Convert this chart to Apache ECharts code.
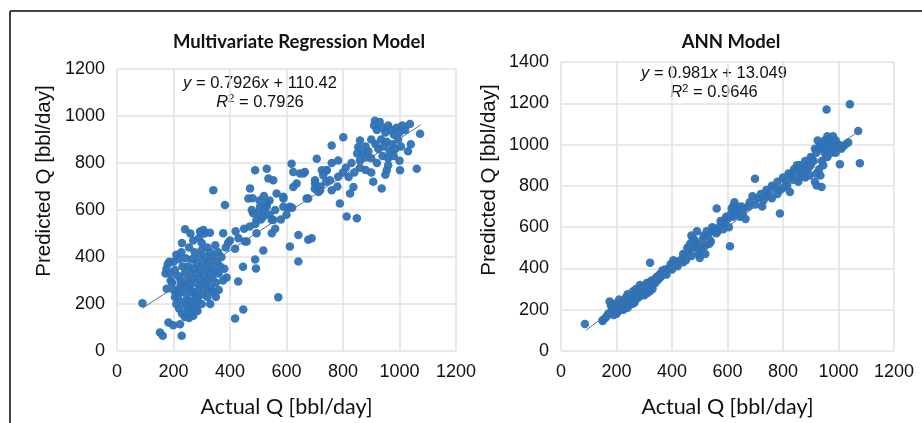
<!DOCTYPE html>
<html><head><meta charset="utf-8">
<script src="https://cdn.jsdelivr.net/npm/echarts@6/dist/echarts.min.js"></script>
<style>html,body{margin:0;padding:0;background:#fff}#c{width:922px;height:423px}</style>
</head><body><div id="c"></div>
<script>
// ---------- data ----------
const titles = ['Multivariate Regression Model', 'ANN Model'];
const xAxisName = 'Actual Q [bbl/day]';
const yAxisName = 'Predicted Q [bbl/day]';
const mrFit = { slope: 0.7926, intercept: 110.42, r2: '0.7926', text: '0.7926', icpt: '110.42' };
const annFit = { slope: 0.981, intercept: 13.049, r2: '0.9646', text: '0.981', icpt: '13.049' };
const fitRange = [90, 1075];

const mrPoints = [
[90,203],[152,79],[162,65],[229,65],[182,121],[199,110],[223,114],[176,265],[175,350],[180,370],[172,330],[190,300],
[205,230],[215,255],[210,200],[220,180],[230,160],[240,145],[250,170],[255,140],[265,190],[270,150],[285,170],
[200,380],[205,345],[210,410],[215,320],[220,390],[225,300],[228,420],[232,360],[236,270],[240,330],[243,395],
[246,240],[250,300],[252,360],[255,440],[258,210],[260,280],[262,330],[265,390],[268,250],[270,310],[272,350],
[275,420],[278,230],[280,290],[282,370],[285,330],[288,260],[290,400],[292,310],[295,350],[298,280],[300,430],
[302,240],[305,370],[308,320],[310,290],[312,400],[315,350],[318,260],[320,440],[322,300],[325,380],[328,330],
[330,420],[332,270],[335,360],[338,310],[340,400],[345,340],[348,450],[350,290],[355,380],[358,420],[360,330],
[365,360],[370,400],[375,300],[380,350],[385,440],[290,480],[300,460],[270,470],[230,460],[260,500],[310,500],
[294,508],[329,503],[241,518],[306,515],[376,501],[453,466],[382,621],[393,460],[418,435],[446,359],[429,296],
[388,313],[447,177],[418,138],[571,229],[489,389],[492,351],[518,428],[459,466],[494,501],[548,501],[612,445],
[642,494],[642,381],[677,473],[215,230],[225,250],[245,195],[255,215],[265,160],[275,200],[285,220],[235,210],
[260,260],[280,180],[300,200],[320,230],[340,250],[360,260],[330,200],[350,230],[245,280],[225,280],[185,380],
[190,330],[195,290],[200,260],
[482,586],[530,614],[589,614],[494,558],[553,558],[341,684],[489,769],[530,776],[536,734],[553,727],[471,692],
[465,649],[477,600],[506,614],[530,628],[518,572],[548,558],[565,670],[589,649],[606,607],[618,797],[624,762],
[648,755],[665,762],[636,713],[624,698],[707,818],[760,874],[742,769],[730,748],[701,713],[719,684],[760,684],
[671,649],[689,480],[500,590],[510,560],[520,600],[540,580],[560,600],[490,540],[505,640],[470,530],[450,520],
[430,480],[420,510],[400,470],[580,560],[600,580],[620,610],[560,520],[540,640],[520,660],[480,650],
[913,980],[1073,924],[1061,776],[1037,966],[1002,769],[955,769],[907,720],[937,691],[837,698],[825,670],[813,572],
[849,565],[789,628],[801,910],[783,811],[660,755],[725,769],[742,769],[701,727],[677,649],[713,677],[754,727],
[783,741],[860,811],[884,825],[860,896],[854,867],[589,656],[612,614],
[910,960],[920,940],[930,975],[940,950],[950,930],[960,960],[970,940],[980,920],[990,950],[1000,930],[1010,960],
[1020,940],[900,900],[915,880],[925,860],[935,900],[945,870],[955,890],[965,850],[975,880],[985,860],[995,900],
[1005,870],[890,850],[880,870],[870,840],[900,820],[920,800],[940,830],[960,820],[980,830],[1000,810],[1030,850],
[1040,880],[850,840],[830,800],[810,780],[800,760],[780,700],[820,740],[840,760],[860,780],[880,770],[900,760],
[760,800],[740,720],[720,700],[700,690],[960,790],[950,750]
];

const annPoints = [
[86,131],[150,145],[160,160],[170,180],[175,240],[180,220],[185,200],[190,175],[195,230],[200,210],[205,190],
[210,250],[215,225],[220,205],[225,240],[230,215],[235,260],[240,230],[245,250],[250,240],[255,270],[260,250],
[265,235],[270,285],[275,265],[280,280],[285,300],[290,270],[295,310],[300,290],[305,320],[310,300],[315,330],
[320,310],[325,340],[330,320],[335,345],[340,330],[345,360],[350,345],[355,370],[360,360],[321,427],[370,380],
[380,390],[390,400],[400,395],[410,420],[420,410],[430,440],[440,430],[450,470],[460,480],[470,460],[480,500],
[490,520],[500,490],[510,540],[520,510],[530,560],[540,530],[550,580],[560,570],[470,560],[480,540],[490,580],
[460,500],[450,440],[500,450],[520,470],[609,507],[570,600],[580,620],[590,610],[600,640],[610,660],[620,650],
[630,680],[640,660],[650,700],[660,690],[561,690],[680,720],[700,710],[699,834],[620,700],[720,760],[740,780],
[760,800],[789,666],[780,820],[800,840],[825,770],[820,860],[840,880],[860,900],[880,920],[900,940],[921,802],
[939,794],[957,1170],[1041,1195],[1071,1066],[1077,910],[1005,905],[920,960],[930,980],[940,1000],[950,1020],
[960,1040],[970,1000],[980,980],[990,1020],[1000,1000],[910,920],[890,880],[870,860],[850,900],[950,960],
[960,940],[970,980],[980,1040],[940,920],[900,900],[1010,980],[990,960],[930,880],[920,860],[880,840],[860,840],
[150,150],[165,170],[190,215],[200,180],[215,200],[225,200],[240,210],[250,225],[260,230],[270,250],[280,260],
[300,270],[310,280],[320,290],[330,300],[180,190],[195,195],[230,245],[250,260],[270,300],[290,290],[300,310],
[260,290],[240,275],[285,320],[310,330],[340,350],[355,355],[365,390],[375,395],[380,370],[395,420],[405,440],
[420,430],[440,470],[455,500],[465,520],[475,540],[485,510],[495,470],[505,500],[515,560],[525,580],[535,520],
[545,600],[555,590],[565,580],[575,630],[585,590],[595,650],[605,600],[615,690],[625,720],[635,700],[645,650],
[655,660],[665,640],[675,700],[690,750],[710,740],[730,730],[750,760],[770,790],[790,780],[810,820],[830,850],
[845,870],[865,880],[885,900],[905,930],[915,980],[925,1020],[935,1000],[945,980],[955,1010],[965,1020],
[975,960],[985,1000],[995,990],[1015,990],[1025,1000],[1035,1010],[955,940],[945,900],[935,850],[915,820],
[895,850],[875,870],[855,820],[835,830],[815,800],[800,790],[780,760],[760,740],[740,750],[725,700]
];

const xTicks = { min: 0, max: 1200, interval: 200 };
const yTicksMR = { min: 0, max: 1200, interval: 200 };
const yTicksANN = { min: 0, max: 1400, interval: 200 };

// ---------- chart ----------
const DOT = '#2E72B6';
const TICKFONT = 'Liberation Sans';
const LABELFONT = 'Lato';

function fitLine(f) { return fitRange.map(x => [x, f.slope * x + f.intercept]); }
const plain = v => String(v);

function xAx(gi) {
  return {
    gridIndex: gi, type: 'value', min: xTicks.min, max: xTicks.max, interval: xTicks.interval,
    name: xAxisName, nameLocation: 'middle', nameGap: 45,
    nameTextStyle: { fontFamily: LABELFONT, fontSize: 21.5, color: '#111' },
    axisLine: { show: false }, axisTick: { show: false },
    axisLabel: { fontFamily: TICKFONT, fontSize: 18, color: '#111', margin: 12, formatter: plain },
    splitLine: { show: true, lineStyle: { color: '#e2e2e2', width: 1.5 } }
  };
}
function yAx(gi, t) {
  return {
    gridIndex: gi, type: 'value', min: t.min, max: t.max, interval: t.interval,
    axisLine: { show: false }, axisTick: { show: false },
    axisLabel: { fontFamily: TICKFONT, fontSize: 18, color: '#111', margin: 12, formatter: plain },
    splitLine: { show: true, lineStyle: { color: '#e2e2e2', width: 1.5 } }
  };
}
function yName(cx, cy) {
  return {
    type: 'text', x: cx, y: cy, rotation: Math.PI / 2,
    style: { text: yAxisName, align: 'center', verticalAlign: 'middle',
      fontFamily: TICKFONT, fontSize: 20.5, fill: '#111' }
  };
}
function annot(f, cx, y) {
  return {
    type: 'text', x: cx, y: y,
    style: {
      text: '{i|y} = ' + f.text + '{i|x} + ' + f.icpt + '\n{i|R}{s|2} = ' + f.r2,
      align: 'center', verticalAlign: 'top', fontFamily: TICKFONT, fontSize: 16.5, fill: '#111', lineHeight: 19,
      rich: {
        i: { fontStyle: 'italic', fontFamily: TICKFONT, fontSize: 16.5, fill: '#111', lineHeight: 19 },
        s: { fontFamily: TICKFONT, fontSize: 11.5, fill: '#111', verticalAlign: 'top', padding: [0, 0, 7, 0], lineHeight: 19 }
      }
    }
  };
}

const chart = echarts.init(document.getElementById('c'), null, { renderer: 'canvas' });
chart.setOption({
  backgroundColor: '#fff',
  animation: false,
  title: [
    { text: titles[0], left: 294, top: 28, textAlign: 'center',
      textStyle: { fontFamily: LABELFONT, fontWeight: 'bold', fontSize: 18.5, color: '#111' } },
    { text: titles[1], left: 726, top: 28, textAlign: 'center',
      textStyle: { fontFamily: LABELFONT, fontWeight: 'bold', fontSize: 18.5, color: '#111' } }
  ],
  grid: [
    { left: 117, top: 69, width: 339, height: 283 },
    { left: 561, top: 62, width: 333, height: 292 }
  ],
  xAxis: [xAx(0), xAx(1)],
  yAxis: [yAx(0, yTicksMR), yAx(1, yTicksANN)],
  series: [
    { type: 'scatter', xAxisIndex: 0, yAxisIndex: 0, data: mrPoints, symbolSize: 8.5,
      itemStyle: { color: DOT, opacity: 0.95 } },
    { type: 'line', xAxisIndex: 0, yAxisIndex: 0, data: fitLine(mrFit), symbol: 'none', z: 3,
      lineStyle: { color: '#5a6f8c', width: 1 } },
    { type: 'scatter', xAxisIndex: 1, yAxisIndex: 1, data: annPoints, symbolSize: 8.5,
      itemStyle: { color: DOT, opacity: 0.95 } },
    { type: 'line', xAxisIndex: 1, yAxisIndex: 1, data: fitLine(annFit), symbol: 'none', z: 3,
      lineStyle: { color: '#5a6f8c', width: 1 } }
  ],
  graphic: [
    { type: 'line', shape: { x1: 10, y1: 11, x2: 922, y2: 11 }, style: { stroke: '#444', lineWidth: 2 } },
    { type: 'line', shape: { x1: 10, y1: 11, x2: 10, y2: 423 }, style: { stroke: '#444', lineWidth: 2 } },
    yName(44, 181),
    yName(489, 180),
    annot(mrFit, 260, 74),
    annot(annFit, 714, 64)
  ]
});
</script></body></html>
